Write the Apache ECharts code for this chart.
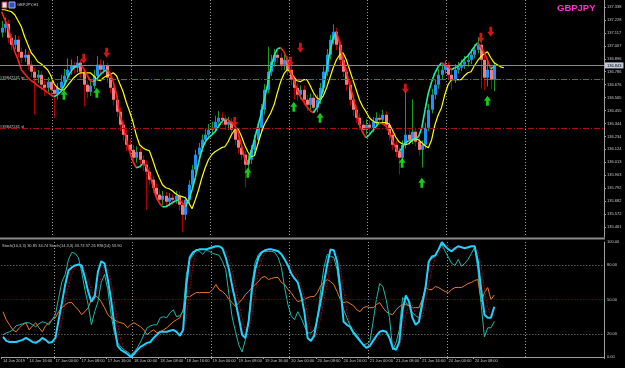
<!DOCTYPE html>
<html><head><meta charset="utf-8">
<script src="https://cdn.jsdelivr.net/npm/echarts@6/dist/echarts.min.js"></script>
<style>html,body{margin:0;padding:0;background:#000;}#c{width:625px;height:368px;}</style>
</head><body><div id="c"></div>
<script>
// ---------- categories (H1 bars) ----------
const days = ['14 Jun','17 Jun','18 Jun','19 Jun','20 Jun','21 Jun','24 Jun','25 Jun'];
const firstHour = 8;
const slotCount = 187;
const firstLabel = '14 Jun 2019';

// ---------- price candles ----------
const opens = [137.120,137.161,137.195,137.076,137.016,137.059,136.956,136.905,136.931,136.846,
136.786,136.735,136.760,136.675,136.649,136.701,136.632,136.598,136.649,136.701,
136.752,136.803,136.837,136.820,136.863,136.786,136.675,136.615,136.666,136.752,
136.846,136.803,136.837,136.735,136.649,136.547,136.445,136.334,136.248,136.163,
136.120,136.052,136.103,136.035,135.993,135.933,135.865,135.796,135.737,135.694,
135.728,135.677,135.711,135.694,135.728,135.651,135.566,135.694,135.822,135.950,
136.078,136.138,136.206,136.248,136.291,136.308,136.359,136.393,136.376,136.334,
136.359,136.291,136.206,136.138,136.078,135.993,136.035,136.120,136.206,136.308,
136.462,136.632,136.786,136.871,136.931,136.905,136.846,136.888,136.803,136.718,
136.649,136.590,136.632,136.547,136.504,136.564,136.479,136.547,136.649,136.786,
136.931,137.059,137.127,137.016,136.888,136.786,136.675,136.547,136.462,136.393,
136.334,136.291,136.334,136.308,136.359,136.393,136.376,136.419,136.334,136.248,
136.163,136.103,136.052,136.163,136.248,136.206,136.274,136.189,136.120,136.163,
136.308,136.462,136.590,136.675,136.760,136.803,136.837,136.760,136.718,136.803,
136.820,136.846,136.871,136.888,136.931,136.973,137.016,136.888,136.735,136.803,
136.718];
const closes = [137.161,137.195,137.076,137.016,137.059,136.956,136.905,136.931,136.846,136.786,
136.735,136.760,136.675,136.649,136.701,136.632,136.598,136.649,136.701,136.752,
136.803,136.837,136.820,136.863,136.786,136.675,136.615,136.666,136.752,136.846,
136.803,136.837,136.735,136.649,136.547,136.445,136.334,136.248,136.163,136.120,
136.052,136.103,136.035,135.993,135.933,135.865,135.796,135.737,135.694,135.728,
135.677,135.711,135.694,135.728,135.651,135.566,135.694,135.822,135.950,136.078,
136.138,136.206,136.248,136.291,136.308,136.359,136.393,136.376,136.334,136.359,
136.291,136.206,136.138,136.078,135.993,136.035,136.120,136.206,136.308,136.462,
136.632,136.786,136.871,136.931,136.905,136.846,136.888,136.803,136.718,136.649,
136.590,136.632,136.547,136.504,136.564,136.479,136.547,136.649,136.786,136.931,
137.059,137.127,137.016,136.888,136.786,136.675,136.547,136.462,136.393,136.334,
136.291,136.334,136.308,136.359,136.393,136.376,136.419,136.334,136.248,136.163,
136.103,136.052,136.163,136.248,136.206,136.274,136.189,136.120,136.163,136.308,
136.462,136.590,136.675,136.760,136.803,136.837,136.760,136.718,136.803,136.820,
136.846,136.871,136.888,136.931,136.973,137.016,136.888,136.735,136.803,136.718,
136.843];
const highs = [137.22,137.25,137.23,137.11,137.10,137.09,136.99,136.98,136.96,136.88,
136.82,136.80,136.79,136.71,136.74,136.73,136.67,136.69,136.76,136.81,
136.90,136.89,136.87,136.92,136.89,136.82,136.71,136.71,136.80,136.92,
136.89,136.88,136.86,136.77,136.68,136.59,136.48,136.37,136.29,136.21,
136.16,136.15,136.14,136.07,136.03,135.97,135.90,135.83,135.78,135.77,
135.76,135.75,135.74,135.77,135.76,135.69,135.72,135.86,135.99,136.12,
136.18,136.25,136.30,136.34,136.36,136.41,136.45,136.44,136.42,136.40,
136.39,136.33,136.24,136.17,136.11,136.08,136.16,136.25,136.35,136.51,
136.68,137.00,136.93,136.98,136.97,136.95,136.93,136.92,136.84,136.75,
136.69,136.67,136.67,136.59,136.60,136.60,136.59,136.69,136.83,136.98,
137.10,137.19,137.16,137.05,136.93,136.82,136.71,136.59,136.50,136.43,
136.37,136.38,136.37,136.40,136.44,136.43,136.46,136.45,136.37,136.28,
136.20,136.14,136.20,136.63,136.29,136.55,136.31,136.22,136.20,136.35,
136.51,136.64,136.72,136.81,136.85,136.88,136.87,136.80,136.85,136.87,
136.89,136.92,136.93,136.98,137.02,137.08,137.05,136.92,136.90,136.84,
136.87];
const lows = [137.08,137.12,137.03,136.97,136.98,136.91,136.86,136.87,136.80,136.74,
136.42,136.69,136.63,136.58,136.61,136.59,136.39,136.55,136.61,136.66,
136.72,136.76,136.77,136.78,136.73,136.49,136.56,136.58,136.64,136.72,
136.76,136.77,136.69,136.60,136.50,136.40,136.28,136.20,136.11,136.07,
136.00,136.01,135.99,135.94,135.61,135.82,135.75,135.69,135.65,135.65,
135.63,135.64,135.65,135.66,135.60,135.42,135.52,135.66,135.79,135.92,
136.04,136.10,136.17,136.21,136.25,136.27,136.32,136.33,136.29,136.29,
136.24,136.16,136.09,136.03,135.80,135.95,136.00,136.08,136.17,136.27,
136.42,136.60,136.75,136.83,136.86,136.80,136.80,136.76,136.67,136.55,
136.54,136.55,136.50,136.45,136.46,136.43,136.44,136.51,136.61,136.75,
136.89,137.02,136.97,136.84,136.74,136.62,136.50,136.41,136.35,136.29,
136.25,136.25,136.26,136.27,136.32,136.33,136.34,136.29,136.20,136.12,
136.06,135.91,136.01,136.13,136.16,136.17,136.15,136.07,135.97,136.13,
136.28,136.43,136.55,136.64,136.72,136.77,136.72,136.63,136.69,136.77,
136.79,136.81,136.83,136.85,136.90,136.94,136.64,136.63,136.66,136.64,
136.62];

// ---------- moving averages ----------
const fastMA = [137.298,137.229,137.161,137.059,136.956,136.888,136.803,136.769,136.735,136.709,
136.692,136.666,136.649,136.632,136.607,136.590,136.573,136.590,136.615,136.666,
136.726,136.786,136.820,136.837,136.846,136.811,136.760,136.709,136.701,136.726,
136.760,136.786,136.803,136.777,136.701,136.590,136.419,136.334,136.206,136.103,
136.018,135.967,135.975,136.001,135.984,135.924,135.822,135.720,135.668,135.634,
135.634,135.651,135.668,135.685,135.694,135.668,135.634,135.694,135.779,135.882,
136.010,136.121,136.189,136.223,136.248,136.274,136.317,136.359,136.385,136.376,
136.351,136.325,136.274,136.163,136.052,135.993,136.103,136.206,136.317,136.419,
136.547,136.675,136.820,136.922,136.982,136.991,136.956,136.888,136.786,136.718,
136.632,136.573,136.530,136.487,136.453,136.436,136.479,136.538,136.649,136.803,
136.956,137.076,137.127,137.025,136.888,136.786,136.675,136.581,136.462,136.334,
136.266,136.223,136.248,136.283,136.317,136.351,136.342,136.325,136.274,136.206,
136.138,136.095,136.138,136.180,136.197,136.206,136.214,136.231,136.308,136.462,
136.607,136.701,136.777,136.829,136.863,136.846,136.829,136.803,136.820,136.829,
136.863,136.897,136.922,136.956,136.999,137.033,136.999,136.948,136.888,136.811,
136.829];
const slowMA = [137.315,137.315,137.306,137.298,137.272,137.221,137.170,137.084,137.016,136.948,
136.914,136.871,136.854,136.828,136.803,136.752,136.683,136.649,136.632,136.632,
136.666,136.701,136.735,136.760,136.777,136.777,136.777,136.777,136.752,136.718,
136.709,136.735,136.752,136.760,136.777,136.752,136.683,136.615,136.521,136.445,
136.359,136.248,136.163,136.138,136.121,136.112,136.035,135.950,135.882,135.822,
135.796,135.788,135.771,135.745,135.728,135.720,135.711,135.668,135.617,135.694,
135.779,135.882,135.967,136.035,136.078,136.103,136.121,136.138,136.146,136.189,
136.248,136.291,136.300,136.240,136.163,136.103,136.061,136.069,136.163,136.257,
136.334,136.385,136.436,136.504,136.607,136.701,136.769,136.803,136.786,136.743,
136.709,136.701,136.718,136.718,136.666,136.607,136.564,136.547,136.581,136.649,
136.735,136.820,136.888,136.931,136.948,136.888,136.803,136.718,136.632,136.547,
136.487,136.445,136.393,136.368,136.351,136.351,136.351,136.351,136.342,136.291,
136.231,136.189,136.172,136.163,136.172,136.197,136.214,136.206,136.180,136.155,
136.138,136.206,136.334,136.419,136.479,136.590,136.675,136.718,136.718,136.718,
136.718,136.752,136.777,136.786,136.837,136.880,136.914,136.939,136.956,136.905,
136.863,136.846,136.828,136.820];

// ---------- signal arrows [bar index, price] ----------
const sellArrows = [[25,136.897],[32,136.948],[71,136.357],[88,136.871],[91,136.991],[123,136.641],[146,137.076],[149,137.127]];
const buyArrows = [[19,136.590],[29,136.607],[75,135.924],[89,136.487],[97,136.393],[122,136.010],[128,135.839],[148,136.538]];

// ---------- price axis / order lines ----------
const priceTicks = ['137.338','137.228','137.117','137.007','136.896','136.786','136.676','136.565','136.455',
'136.344','136.234','136.124','136.013','135.903','135.792','135.682','135.572','135.461'];
const currentPrice = 136.843;
const takeProfit = 136.724;
const stopLoss = 136.297;
const orderLabel = '#39847241';

// ---------- oscillators ----------
const stoch10 = [19.3,21,21.9,23.6,27.1,28,28.9,29.8,29.8,28,
26.3,28.9,30.6,29.8,28,32.4,36.8,51.6,65.6,71.8,
84.9,91,90.1,86.6,74.4,58.6,45.5,28,39.4,48.1,
64.8,71.8,58.6,36.8,21,12.3,8.8,6.1,4.4,1.8,
4.4,7.9,13.1,19.3,25.4,27.1,28,28,34.1,35,
34.1,38.5,41.1,35,35.9,39.4,71.8,84.9,88.4,93.6,
91.9,89.3,92.8,91.9,90.1,89.3,88.4,83.1,76.1,54.3,
34.1,21.9,10.5,4.4,14.9,32.4,63,82.3,89.3,91.9,
91.9,91.9,91.9,91,86.6,77.9,60.4,45.5,35.9,32.4,
39.4,34.1,27.1,21,21,23.6,32.4,58.6,77.9,89.3,
87.5,86.6,76.1,54.3,41.1,34.1,27.1,21.9,19.3,14.9,
10.5,11.4,13.1,30.6,49.9,63.9,61.3,49.9,34.1,6.1,
12.3,23.6,51.6,47.3,44.6,38.5,35.9,34.1,49.9,58.6,
83.1,85.8,87.5,93.6,98,91.9,86.6,81.4,79.6,84.9,
78.8,81.4,84.9,90.1,95.4,76.1,45.5,17.5,25.4,25.4,
30.85];
const stoch14 = [17.5,14,13.1,13.1,13.1,14,14.9,16.6,14.9,13.1,
12.3,14,16.6,14.9,12.3,13.1,16.6,32.4,47.3,63,
75.3,77.9,79.6,80.5,79.6,69.1,56.9,48.1,52.5,74.4,
83.1,81.4,67.4,49.9,28,9.6,6.1,4.4,2.6,0,
2.6,6.1,8.8,10.5,12.3,13.1,16.6,19.3,21.9,21.9,
21.9,22.8,23.6,21.9,18.4,23.6,63,86.6,91,92.8,
93.6,93.6,93.6,94.5,95.4,96.3,96.3,94.5,86.6,76.1,
61.3,48.1,34.1,19.3,16.6,30.6,58.6,76.1,86.6,91,
92.8,93.6,93.6,92.8,91.9,89.3,84.9,79.6,72.6,68.3,
64.8,54.3,39.4,16.6,14,18.4,34.1,48.1,64.8,80.5,
93.6,92.8,83.1,60.4,30.6,28,26.3,21,17.5,14,
10.5,7.9,9.6,14,18.4,21.9,22.8,21.9,16.6,7.9,
6.1,13.1,41.1,53.4,48.1,34.1,28,30.6,45.5,60.4,
83.1,87.5,88.4,93.6,99.8,96.3,93.6,91.9,94.5,96.3,
95.4,94.5,95.4,96.3,96.3,83.1,58.6,36.8,34.1,34.1,
43.73];
const stoch14Signal = [18,16,15,13.5,13,13.5,14,15,15.5,15,
13.5,13,14,15,14.5,13.5,14,20,32,47,
62,72,78,79,80,76,68,58,52,58,
70,80,77,66,48,29,15,7,4.5,2.5,
1.7,2.9,5.8,8.5,10.5,12,14,16.3,19.3,21,
21.9,22.2,22.8,22.8,21.3,21.3,35,58,80,90,
92.5,93.3,93.6,93.9,94.5,95.4,96,95.7,92.5,85.7,
74.7,61.8,47.8,33.8,23.3,22.2,35.3,55,73.8,84.6,
90.1,92.5,93.3,93.3,92.8,91.3,88.7,84.6,79,73.5,
68.6,62.5,52.8,36.8,23.3,16.3,22.2,33.5,49,64.4,
79.6,89,89.8,78.8,58,39.7,28.3,25.1,21.6,17.5,
14,10.8,9.3,10.5,14,18,21,22.2,20.4,15.5,
10.2,9,20.1,35.9,47.5,45.2,36.7,30.9,34.7,45.5,
63,77,86.3,89.8,93.9,96.6,96.6,94,93.3,94.2,
95.4,95.4,95.1,95.4,96,91.9,79.3,59.5,43.2,35,
37.26];
const rsi14 = [39.4,32.4,28,23.6,21.9,25.4,28,29.8,23.6,27.1,
29.8,25.4,21.9,27.1,29.8,32.4,34.1,39.4,42.9,45.5,
47.3,47.3,43.8,41.1,36.8,39.4,42.9,49.9,54.3,51.6,
48.1,42.9,36.8,34.1,32.4,30.6,29.8,28.9,25.4,28,
29.8,28,26.3,23.6,19.3,21.9,23.6,21,21.9,23.6,
25.4,28,30.6,32.4,34.1,41.1,52.5,52.5,54.3,56,
56,56,56,56,58.6,63,58.6,56.9,54.3,49.9,
47.3,43.8,47.3,49.9,54.3,56.9,60.4,63,65.6,69.1,
70,67.4,68.3,69.1,69.1,64.8,63,58.6,56,51.6,
48.1,49,49.9,51.6,52.5,52.5,56,62.1,64.8,67.4,
65.6,63,56.9,49.9,47.3,48.1,46.4,44.6,41.1,39.4,
42.9,43.8,42.9,42.9,45.5,47.3,42.9,39.4,37.6,36.8,
41.1,43.8,45.5,45.5,44.6,42.9,42.9,42.9,49.9,60.4,
58.6,58.6,61.3,60.4,58.6,56.9,56,58.6,60.4,60.4,
60.4,62.1,63.9,64.8,66.5,67.4,48.1,56,60.4,49.9,
53.9];
const oscLevels = [0, 20, 50, 80, 100];
const oscTitle = 'Stoch(10,3,3) 30.85 34.74 Stoch(14,3,3) 43.73 37.26 RSI(14) 53.90';

// ---------- build ----------
const categories = [];
for (let d = 0; d < days.length && categories.length < slotCount; d++) {
  for (let h = (d === 0 ? firstHour : 0); h < 24 && categories.length < slotCount; h++) {
    categories.push(days[d] + ' ' + String(h).padStart(2, '0') + ':00');
  }
}
const candleData = opens.map((o, i) => [i, o, closes[i], lows[i], highs[i]]);
const fastSegs = [];
for (let i = 1; i < fastMA.length; i++) fastSegs.push([i, fastMA[i - 1], fastMA[i]]);
const slowData = slowMA.map((v, i) => [i, v]);

const FONT = 'Liberation Sans, Arial, sans-serif';
const TXT = '#c8c8c8';
const GRID_C = '#a0a0a0';
const RIGHT = 21;
const isMidnight = (idx, val) => typeof val === 'string' && val.endsWith(' 00:00');
const vSplit = { show: true, interval: isMidnight, lineStyle: { color: '#9a9a9a', type: [1, 2], width: 1 } };

function renderCandle(params, api) {
  const i = api.value(0), o = api.value(1), c = api.value(2), l = api.value(3), h = api.value(4);
  const pO = api.coord([i, o]), pC = api.coord([i, c]), pL = api.coord([i, l]), pH = api.coord([i, h]);
  const x = Math.round(pO[0]) + 0.5;
  const up = c >= o;
  const top = Math.min(pO[1], pC[1]);
  const bh = Math.max(1, Math.abs(pO[1] - pC[1]));
  return { type: 'group', children: [
    { type: 'line', shape: { x1: x, y1: pH[1], x2: x, y2: pL[1] }, style: { stroke: up ? '#1c9a1c' : '#b00000', lineWidth: 1 } },
    { type: 'rect', shape: { x: x - 1.5, y: top, width: 3, height: bh }, style: { fill: up ? '#1e90ff' : '#f47c7c' } }
  ]};
}
function renderSeg(params, api) {
  const i = api.value(0), a = api.value(1), b = api.value(2);
  const p1 = api.coord([i - 1, a]), p2 = api.coord([i, b]);
  return { type: 'line', shape: { x1: p1[0], y1: p1[1], x2: p2[0], y2: p2[1] },
    style: { stroke: b >= a ? '#22f0a8' : '#ff2020', lineWidth: 1.6 } };
}

const downArrow = 'path://M3,0 L7,0 L7,6 L10,6 L5,12 L0,6 L3,6 Z';
const upArrow = 'path://M5,0 L10,6 L7,6 L7,12 L3,12 L3,6 L0,6 Z';

const chart = echarts.init(document.getElementById('c'), null, { renderer: 'canvas' });
chart.setOption({
  backgroundColor: '#000',
  animation: false,
  textStyle: { fontFamily: FONT },
  grid: [
    { left: 0, right: RIGHT, top: 0, height: 237 },
    { left: 0, right: RIGHT, top: 242, height: 115 },
    { left: 0, right: RIGHT, top: 7, height: 220 }
  ],
  xAxis: [
    { type: 'category', gridIndex: 0, data: categories, boundaryGap: true,
      axisLine: { show: false }, axisTick: { show: false }, axisLabel: { show: false }, splitLine: vSplit },
    { type: 'category', gridIndex: 1, data: categories, boundaryGap: true,
      axisLine: { show: true, lineStyle: { color: GRID_C, width: 1 } },
      axisTick: { show: true, interval: (i) => i % 8 === 0 && i <= 144, length: 2, lineStyle: { color: GRID_C } },
      axisLabel: { show: true, interval: (i) => i % 8 === 0 && i <= 144, align: 'left', margin: 2,
        fontSize: 4, color: TXT, fontFamily: FONT,
        formatter: (v, idx) => idx === 0 ? firstLabel : v },
      splitLine: vSplit },
    { type: 'category', gridIndex: 2, data: [''], show: false }
  ],
  yAxis: [
    { type: 'value', gridIndex: 0, position: 'right', min: 135.376, max: 137.398, scale: true,
      axisLine: { show: true, lineStyle: { color: GRID_C } }, axisTick: { show: false },
      axisLabel: { show: false }, splitLine: { show: false } },
    { type: 'value', gridIndex: 1, position: 'right', min: 0, max: 100, interval: 10,
      axisLine: { show: true, lineStyle: { color: GRID_C } }, axisTick: { show: false },
      axisLabel: { show: true, margin: 3, fontSize: 4, color: TXT, fontFamily: FONT,
        formatter: (v) => oscLevels.includes(v) ? v.toFixed(2) : '' },
      splitLine: { show: false } },
    { type: 'category', gridIndex: 2, position: 'right', inverse: true, boundaryGap: false, data: priceTicks,
      axisLine: { show: false }, axisTick: { show: true, length: 2, alignWithLabel: true, lineStyle: { color: GRID_C } },
      axisLabel: { show: true, margin: 3, fontSize: 4, color: TXT, fontFamily: FONT },
      splitLine: { show: false } }
  ],
  graphic: [
    { type: 'rect', shape: { x: 0, y: 237.5, width: 605, height: 2 }, style: { fill: '#8a8a8a' }, z: 20 },
    { type: 'rect', shape: { x: 2, y: 2, width: 5, height: 6 }, style: { fill: '#e0e0f0', stroke: '#c03030', lineWidth: 1 }, z: 20 },
    { type: 'rect', shape: { x: 9, y: 2, width: 6, height: 6 }, style: { fill: '#3050c0', stroke: '#a0b0ff', lineWidth: 1 }, z: 20 },
    { type: 'text', x: 17, y: 2.5, style: { text: 'GBPJPY,H1', fill: TXT, fontSize: 4, fontFamily: FONT }, z: 20 },
    { type: 'text', x: 557, y: 3, style: { text: 'GBPJPY', fill: '#ff30c8', fontSize: 9.5, fontWeight: 'bold', fontFamily: FONT }, z: 20 },
    { type: 'text', x: 2, y: 244, style: { text: oscTitle, fill: TXT, fontSize: 4, fontFamily: FONT }, z: 20 }
  ],
  series: [
    { type: 'custom', name: 'candles', xAxisIndex: 0, yAxisIndex: 0, data: candleData,
      encode: { x: 0, y: [1, 2, 3, 4] }, renderItem: renderCandle, clip: true, z: 2,
      markLine: { silent: true, symbol: 'none', animation: false,
        data: [
          { yAxis: currentPrice, lineStyle: { color: '#8a8a8a', type: 'solid', width: 1 },
            label: { show: true, position: 'end', distance: 1, formatter: currentPrice.toFixed(3),
              backgroundColor: '#c0cadc', color: '#000', fontSize: 4, padding: [1, 2], fontFamily: FONT } },
          { yAxis: takeProfit, lineStyle: { color: '#1f8f1f', type: [6, 2, 1, 2], width: 1 },
            label: { show: true, position: 'insideStartTop', distance: 0, formatter: orderLabel + ' tp',
              color: TXT, fontSize: 4, fontFamily: FONT } },
          { yAxis: stopLoss, lineStyle: { color: '#b01010', type: [6, 2, 1, 2], width: 1 },
            label: { show: true, position: 'insideStartTop', distance: 0, formatter: orderLabel + ' sl',
              color: TXT, fontSize: 4, fontFamily: FONT } }
        ] } },
    { type: 'line', name: 'slowMA', xAxisIndex: 0, yAxisIndex: 0, data: slowData, showSymbol: false,
      lineStyle: { color: '#ffff00', width: 1.2 }, z: 3 },
    { type: 'custom', name: 'fastMA', xAxisIndex: 0, yAxisIndex: 0, data: fastSegs,
      encode: { x: 0, y: [1, 2] }, renderItem: renderSeg, clip: true, z: 4 },
    { type: 'scatter', name: 'sell', xAxisIndex: 0, yAxisIndex: 0, data: sellArrows,
      symbol: downArrow, symbolSize: [7, 10], itemStyle: { color: '#ff1a1a' }, z: 5 },
    { type: 'scatter', name: 'buy', xAxisIndex: 0, yAxisIndex: 0, data: buyArrows,
      symbol: upArrow, symbolSize: [7, 10], itemStyle: { color: '#1aff1a' }, z: 5 },

    { type: 'line', name: 'rsi', xAxisIndex: 1, yAxisIndex: 1, data: rsi14, showSymbol: false,
      lineStyle: { color: '#f07a20', width: 1 }, z: 3,
      markLine: { silent: true, symbol: 'none', animation: false, label: { show: false },
        data: [
          { yAxis: 80, lineStyle: { color: '#8a8a8a', type: [1, 2], width: 1 } },
          { yAxis: 50, lineStyle: { color: '#b00000', type: [1, 2], width: 1 } },
          { yAxis: 20, lineStyle: { color: '#8a8a8a', type: [1, 2], width: 1 } }
        ] } },
    { type: 'line', name: 'signal', xAxisIndex: 1, yAxisIndex: 1, data: stoch14Signal, showSymbol: false,
      lineStyle: { color: '#a00000', width: 1, type: [2, 1] }, z: 3 },
    { type: 'line', name: 'stoch10', xAxisIndex: 1, yAxisIndex: 1, data: stoch10, showSymbol: false,
      lineStyle: { color: '#20b8a8', width: 1 }, z: 4 },
    { type: 'line', name: 'stoch14', xAxisIndex: 1, yAxisIndex: 1, data: stoch14, showSymbol: false,
      lineStyle: { color: '#20d0ff', width: 2 }, z: 5 }
  ]
});
</script>
</body></html>
